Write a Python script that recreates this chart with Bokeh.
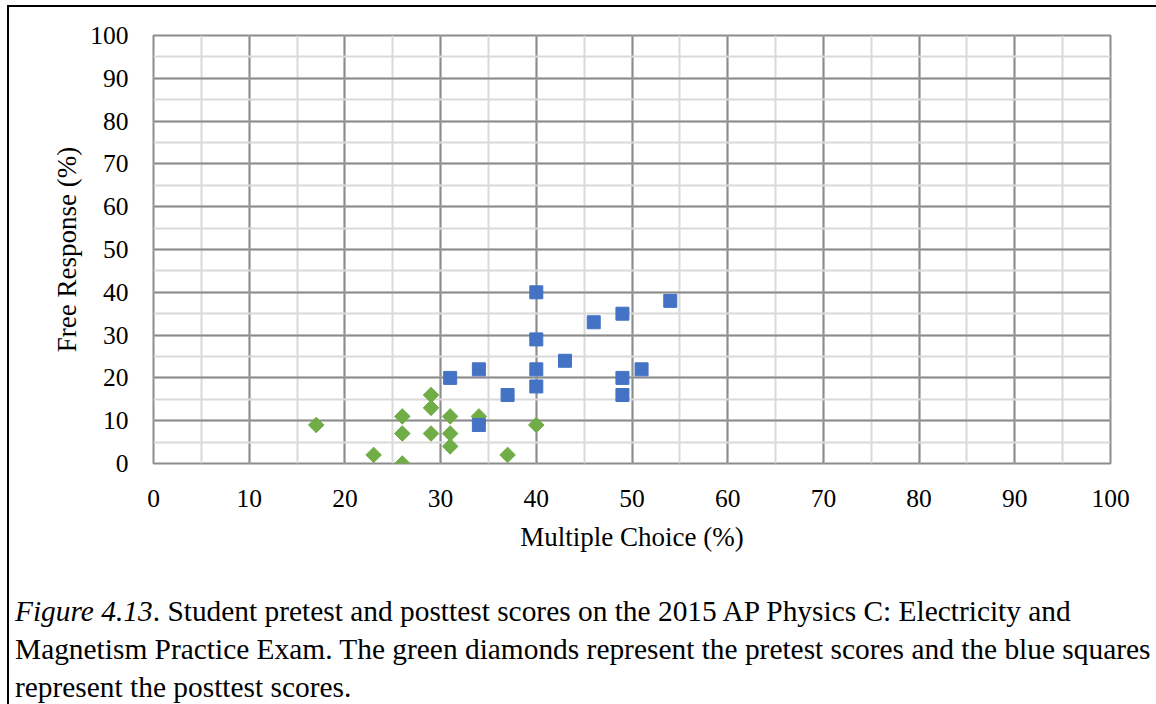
import numpy as np
from bokeh.plotting import figure
from bokeh.models import Range1d, SingleIntervalTicker, Div
from bokeh.layouts import column
from bokeh.embed import file_html
from bokeh.resources import INLINE

# Pretest (green diamonds)
pre_mc = [17, 23, 26, 26, 26, 29, 29, 29, 31, 31, 31, 34, 37, 40]
pre_fr = [9, 2, 0, 7, 11, 7, 13, 16, 11, 7, 4, 11, 2, 9]
# Posttest (blue squares)
post_mc = [40, 54, 49, 46, 40, 43, 34, 40, 51, 31, 49, 40, 37, 49, 34]
post_fr = [40, 38, 35, 33, 29, 24, 22, 22, 22, 20, 20, 18, 16, 16, 9]

x_label = "Multiple Choice (%)"
y_label = "Free Response (%)"
caption_lines = [
    "<i>Figure 4.13</i>. Student pretest and posttest scores on the 2015 AP Physics C: Electricity and",
    "Magnetism Practice Exam. The green diamonds represent the pretest scores and the blue squares",
    "represent the posttest scores.",
]

FONT = "Liberation Serif"

p = figure(width=1140, height=580, x_range=Range1d(0, 100), y_range=Range1d(0, 100),
           output_backend="svg", toolbar_location=None,
           min_border_left=144, min_border_right=39, min_border_top=28, min_border_bottom=124)
p.background_fill_color = "white"
p.border_fill_color = "white"
p.outline_line_color = "#8c8c8c"
p.outline_line_width = 2
p.outline_line_alpha = 1

for ax in (p.xaxis, p.yaxis):
    ax.ticker = SingleIntervalTicker(interval=10, num_minor_ticks=2)
    ax.major_tick_line_color = None
    ax.minor_tick_line_color = None
    ax.axis_line_color = None
    ax.major_label_text_font = FONT
    ax.major_label_text_font_size = "25.5px"
    ax.major_label_text_color = "#000000"
    ax.axis_label_text_font = FONT
    ax.axis_label_text_font_size = "27px"
    ax.axis_label_text_font_style = "normal"
    ax.axis_label_text_color = "#000000"
p.xaxis.axis_label = x_label
p.yaxis.axis_label = y_label
p.xaxis.major_label_standoff = 20
p.yaxis.major_label_standoff = 19
p.xaxis.axis_label_standoff = 12
p.yaxis.axis_label_standoff = 5

for g in (p.xgrid, p.ygrid):
    g.grid_line_color = "#8c8c8c"
    g.grid_line_width = 2
    g.minor_grid_line_color = "#d9d9d9"
    g.minor_grid_line_width = 2

p.scatter(pre_mc, pre_fr, marker="square", angle=np.pi / 4, size=11,
          fill_color="#70AD47", line_color="#70AD47")
p.scatter(post_mc, post_fr, marker="square", size=13,
          fill_color="#4472C4", line_color="#4472C4")

cap = Div(text="<br>".join(caption_lines), width=1140, height=114,
          styles={"font-family": "'Liberation Serif'", "font-size": "29.4px",
                  "line-height": "38px", "padding-left": "1px", "white-space": "nowrap",
                  "color": "#000000"})

layout = column(p, cap, styles={"border-left": "2px solid #000", "border-top": "2px solid #000",
                                "margin-left": "7px", "margin-top": "5px"})

open("out.html", "w").write(file_html(layout, INLINE))
